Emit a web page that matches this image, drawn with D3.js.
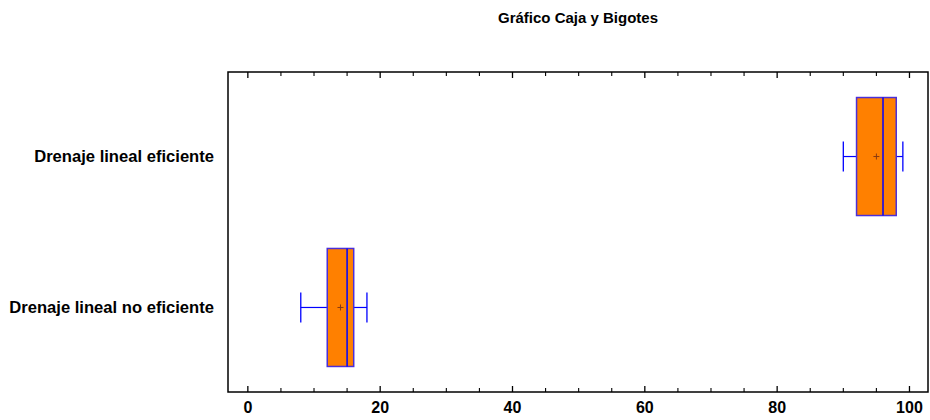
<!DOCTYPE html>
<html>
<head>
<meta charset="utf-8">
<script src="https://cdn.jsdelivr.net/npm/d3@7"></script>
<style>
  body { margin: 0; background: #fff; }
  text { font-family: "Liberation Sans", Arial, sans-serif; font-weight: bold; fill: #000; }
</style>
</head>
<body>
<div id="chart"></div>
<script>
// Data (box plot summaries)
const categories = ["Drenaje lineal eficiente", "Drenaje lineal no eficiente"];
const whiskerLow = [90, 8];
const q1 = [92, 12];
const median = [96, 15];
const q3 = [98, 16];
const whiskerHigh = [99, 18];
const means = [95, 14];
const xTicks = [0, 20, 40, 60, 80, 100];

const W = 930, H = 420;
const margin = { top: 72, right: 2, bottom: 28, left: 228 };
const width = W - margin.left - margin.right,
      height = H - margin.top - margin.bottom;

const svg = d3.select("#chart")
  .append("svg")
    .attr("width", W)
    .attr("height", H);

svg.append("text")
  .attr("x", margin.left + width / 2)
  .attr("y", 23)
  .attr("text-anchor", "middle")
  .style("font-size", "15px")
  .text("Gráfico Caja y Bigotes");

const g = svg.append("g")
  .attr("transform", `translate(${margin.left},${margin.top})`);

const x = d3.scaleLinear()
  .domain([-3, 102.8])
  .range([0, width]);

const y = d3.scalePoint()
  .domain(categories)
  .range([0, height])
  .padding(0.56);

const boxH = 118;

// frame
g.append("rect")
  .attr("x", 0).attr("y", 0)
  .attr("width", width).attr("height", height)
  .attr("fill", "none")
  .attr("stroke", "#000")
  .attr("stroke-width", 1.5);

// ticks (major + minor), bottom and top, pointing inward
const minor = d3.range(0, 101, 5).filter(v => v % 20 !== 0);
[[0, -1], [height, 1]].forEach(([y0, dir]) => {
  g.selectAll(null).data(xTicks).join("line")
    .attr("x1", d => x(d)).attr("x2", d => x(d))
    .attr("y1", y0).attr("y2", y0 + (dir < 0 ? 6 : -6))
    .attr("stroke", "#000").attr("stroke-width", 1.3);
  g.selectAll(null).data(minor).join("line")
    .attr("x1", d => x(d)).attr("x2", d => x(d))
    .attr("y1", y0).attr("y2", y0 + (dir < 0 ? 4 : -4))
    .attr("stroke", "#000").attr("stroke-width", 1.1);
});

// x tick labels
g.selectAll(".xl").data(xTicks).join("text")
  .attr("class", "xl")
  .attr("x", d => x(d))
  .attr("y", height + 21)
  .attr("text-anchor", "middle")
  .style("font-size", "16px")
  .text(d => d);

// category labels
g.selectAll(".yl").data(categories).join("text")
  .attr("class", "yl")
  .attr("x", -14)
  .attr("y", d => y(d))
  .attr("dy", "0.35em")
  .attr("text-anchor", "end")
  .style("font-size", "16.6px")
  .text(d => d);

const rows = categories.map((c, i) => ({
  c, lo: whiskerLow[i], q1: q1[i], med: median[i], q3: q3[i], hi: whiskerHigh[i], mean: means[i]
}));

const blue = "#0000ff";
const box = g.selectAll(".box").data(rows).join("g")
  .attr("class", "box")
  .attr("transform", d => `translate(0,${y(d.c)})`);

// whiskers
box.append("line")
  .attr("x1", d => x(d.lo)).attr("x2", d => x(d.q1))
  .attr("stroke", blue).attr("stroke-width", 1.2);
box.append("line")
  .attr("x1", d => x(d.q3)).attr("x2", d => x(d.hi))
  .attr("stroke", blue).attr("stroke-width", 1.2);
box.append("line")
  .attr("x1", d => x(d.lo)).attr("x2", d => x(d.lo))
  .attr("y1", -15).attr("y2", 15)
  .attr("stroke", blue).attr("stroke-width", 1.3);
box.append("line")
  .attr("x1", d => x(d.hi)).attr("x2", d => x(d.hi))
  .attr("y1", -15).attr("y2", 15)
  .attr("stroke", blue).attr("stroke-width", 1.3);

// box
box.append("rect")
  .attr("x", d => x(d.q1))
  .attr("y", -boxH / 2)
  .attr("width", d => x(d.q3) - x(d.q1))
  .attr("height", boxH)
  .attr("fill", "#ff8000")
  .attr("stroke", "#4b2fd8")
  .attr("stroke-width", 1.5);

// median
box.append("line")
  .attr("x1", d => x(d.med)).attr("x2", d => x(d.med))
  .attr("y1", -boxH / 2).attr("y2", boxH / 2)
  .attr("stroke", blue).attr("stroke-width", 1.5);

// mean marker
box.append("path")
  .attr("d", d => `M${x(d.mean) - 3},0H${x(d.mean) + 3}M${x(d.mean)},-3V3`)
  .attr("stroke", "#8a3a10").attr("stroke-width", 1);
</script>
</body>
</html>
